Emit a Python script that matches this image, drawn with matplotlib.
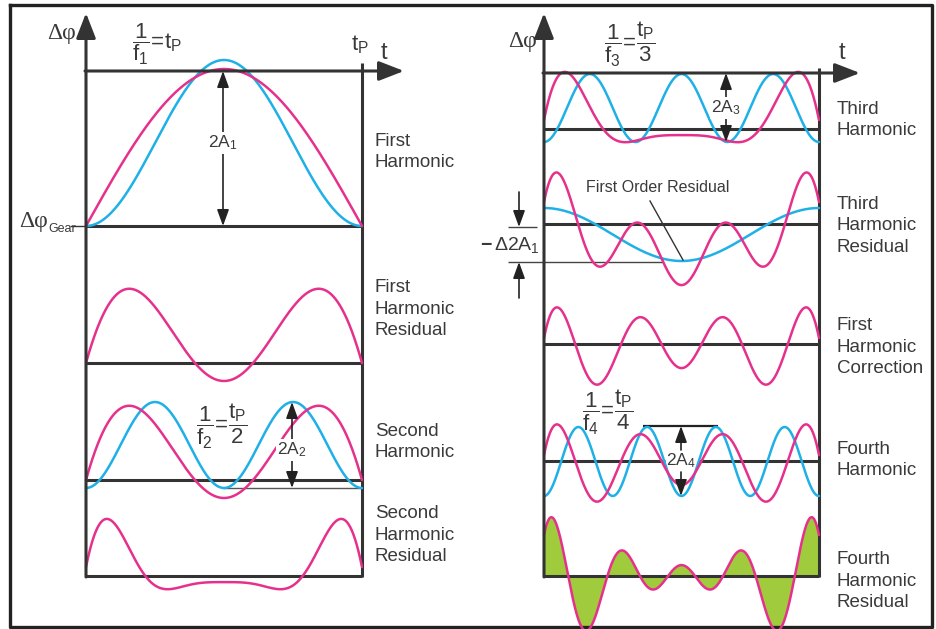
import matplotlib

matplotlib.use("Agg")
import matplotlib.pyplot as plt
import numpy as np

plt.rcParams["font.family"] = ["Liberation Sans", "DejaVu Sans"]
plt.rcParams["mathtext.fontset"] = "custom"
plt.rcParams["mathtext.rm"] = "Liberation Sans"
plt.rcParams["mathtext.it"] = "Liberation Sans"
plt.rcParams["mathtext.bf"] = "Liberation Sans:bold"

# curve parameters (amplitudes in px of the original)
SIGNAL_AMP = 157                  # pink half wave, first harmonic panel
H1_OFFSET, H1_PP = 0, 166         # blue first harmonic, 2A1
RES1_GAIN = 2.0                   # first harmonic residual drawn magnified
H2_OFFSET, H2_PP = -8, 86         # 2A2
RES2_HALF = 432.1                 # second harmonic residual: half wave + cosines
RES2_CONST = -264.8
RES2_COS = [213.1, 50.2, 10.5]    # k = 1, 2, 3
H3_OFFSET, H3_PP = -13, 68        # 2A3
FO_OFFSET, FO_PP = 16, 53         # first order residual (blue)
H4_OFFSET, H4_PP = -35, 69        # 2A4

LEFT_LABELS = ["First\nHarmonic", "First\nHarmonic\nResidual",
               "Second\nHarmonic", "Second\nHarmonic\nResidual"]
RIGHT_LABELS = ["Third\nHarmonic", "Third\nHarmonic\nResidual",
                "First\nHarmonic\nCorrection", "Fourth\nHarmonic",
                "Fourth\nHarmonic\nResidual"]

PINK = "#e6318c"
BLUE = "#1eb0e6"
GREEN = "#a0cb3c"
DARK = "#333333"
TXT = "#3a3a3a"
SERIF = ["Liberation Serif", "DejaVu Serif"]

t = np.linspace(0, 1, 800)


def harmonic(k, offset, pp):
    return offset + pp * (1 - np.cos(2 * np.pi * k * t)) / 2


signal = SIGNAL_AMP * np.sin(np.pi * t)
h1 = harmonic(1, H1_OFFSET, H1_PP)
res1 = RES1_GAIN * (signal - h1)
h2 = harmonic(2, H2_OFFSET, H2_PP)
res2 = RES2_HALF * np.sin(np.pi * t) + RES2_CONST
for k, c in enumerate(RES2_COS, 1):
    res2 = res2 + c * np.cos(2 * np.pi * k * t)
h3 = harmonic(3, H3_OFFSET, H3_PP)
res3 = res2 - h3
first_order = FO_OFFSET - FO_PP * (1 - np.cos(2 * np.pi * t)) / 2
corr = res3 - first_order
h4 = harmonic(4, H4_OFFSET, H4_PP)
res4 = corr - h4

fig = plt.figure(figsize=(9.37, 6.29), dpi=100)
ax = fig.add_axes([0, 0, 1, 1])
ax.set_xlim(0, 937)
ax.set_ylim(629, 0)
ax.axis("off")

# outer frame
ax.plot([10, 932, 932, 10, 10], [5, 5, 627, 627, 5], color="#222222", lw=2.4)

LX0, LX1 = 86, 362
RX0, RX1 = 544, 819
LBASE = [226, 363, 480, 576]
RBASE = [129, 224, 344, 461, 576]
AXW = 2.2
CW = 1.8
SMALL_HEAD = dict(arrowstyle="-|>,head_length=0.55,head_width=0.2",
                  color="#222222", lw=1.2, shrinkA=0, shrinkB=0, mutation_scale=18)


def curve(x0, x1, base, vals, color, z=3):
    ax.plot(x0 + t * (x1 - x0), base - vals, color=color, lw=CW, zorder=z,
            solid_capstyle="round")


def hline(y, xa, xb, lw=AXW, color=DARK):
    ax.plot([xa, xb], [y, y], color=color, lw=lw, zorder=2, solid_capstyle="butt")


def vline(x, ya, yb, lw=AXW):
    ax.plot([x, x], [ya, yb], color=DARK, lw=lw, zorder=2, solid_capstyle="butt")


def axis_arrow(xy, xytext):
    ax.annotate("", xy=xy, xytext=xytext, zorder=4,
                arrowprops=dict(arrowstyle="-|>,head_length=0.85,head_width=0.33",
                                color=DARK, lw=AXW, shrinkA=0, shrinkB=0,
                                mutation_scale=18))


def dim_arrow(x, ya, yb, label, ylab, size=12.5):
    ax.annotate("", xy=(x, ya), xytext=(x, yb), zorder=5,
                arrowprops=dict(SMALL_HEAD, arrowstyle="<|-|>,head_length=0.55,head_width=0.2"))
    ax.text(x, ylab, label, ha="center", va="center", fontsize=size, color=TXT,
            zorder=6, bbox=dict(boxstyle="square,pad=0.1", fc="white", ec="none"))


# ---------------- left panel ----------------
axis_arrow((LX0, 13), (LX0, 577))
axis_arrow((404, 71), (LX0 - 1, 71))
vline(LX1, 63, 577)
for b in LBASE:
    hline(b, LX0, LX1)
hline(226, 70, LX0, lw=1.0)

curve(LX0, LX1, LBASE[0], h1, BLUE)
curve(LX0, LX1, LBASE[0], signal, PINK)
curve(LX0, LX1, LBASE[1], res1, PINK)
curve(LX0, LX1, LBASE[2], h2, BLUE)
curve(LX0, LX1, LBASE[2], res1, PINK)
curve(LX0, LX1, LBASE[3], res2, PINK)

dim_arrow(223, 71, 226, r"$2A_1$", 143)
hline(488, 223, LX1, lw=1.0, color="#555555")
dim_arrow(292, 402, 488, r"$2A_2$", 450)

ax.text(62, 34, "Δφ", ha="center", va="center", fontsize=17, color=TXT,
        family=SERIF)
ax.text(48, 222, "Δφ", ha="right", va="center", fontsize=17, color=TXT,
        family=SERIF)
ax.text(48, 229, "Gear", ha="left", va="center", fontsize=9, color=TXT)
ax.text(384, 53, "t", ha="center", va="center", fontsize=17, color=TXT)
ax.text(360, 45, r"$t_P$", ha="center", va="center", fontsize=16, color=TXT)
ax.text(157, 44, r"$\dfrac{1}{f_1}\!=\!t_P$", ha="center", va="center",
        fontsize=16, color=TXT)
ax.text(222, 426, r"$\dfrac{1}{f_2}\!=\!\dfrac{t_P}{2}$", ha="center", va="center",
        fontsize=16, color=TXT)

for lab, yc in zip(LEFT_LABELS, [152, 309, 442, 535]):
    ax.text(375, yc, lab, ha="left", va="center", fontsize=13.5, color=TXT,
            linespacing=1.32)

# ---------------- right panel ----------------
axis_arrow((RX0, 13), (RX0, 577))
axis_arrow((860, 73), (RX0 - 1, 73))
vline(RX1, 68, 577)
for b in RBASE:
    if b == 461:
        hline(b, RX0, 665)
        hline(b, 698, RX1)
    else:
        hline(b, RX0, RX1)

ax.fill_between(RX0 + t * (RX1 - RX0), RBASE[4], RBASE[4] - res4, color=GREEN,
                lw=0, zorder=1)

curve(RX0, RX1, RBASE[0], h3, BLUE)
curve(RX0, RX1, RBASE[0], res2, PINK)
curve(RX0, RX1, RBASE[1], first_order, BLUE)
curve(RX0, RX1, RBASE[1], res3, PINK)
curve(RX0, RX1, RBASE[2], corr, PINK)
curve(RX0, RX1, RBASE[3], h4, BLUE)
curve(RX0, RX1, RBASE[3], corr, PINK)
curve(RX0, RX1, RBASE[4], res4, PINK)

dim_arrow(726, 73, 142, r"$2A_3$", 108)
hline(426, 643, 718, lw=1.6, color="#222222")
ax.annotate("", xy=(681, 426), xytext=(681, 450), zorder=5, arrowprops=SMALL_HEAD)
ax.annotate("", xy=(681, 496), xytext=(681, 472), zorder=5, arrowprops=SMALL_HEAD)
ax.text(681, 461, r"$2A_4$", ha="center", va="center", fontsize=12.5, color=TXT,
        zorder=6)

# -delta 2A1 marker
hline(227, 508, 537, lw=1.0, color="#444444")
hline(262, 508, 663, lw=1.0, color="#444444")
ax.annotate("", xy=(519, 227), xytext=(519, 192), arrowprops=SMALL_HEAD)
ax.annotate("", xy=(519, 262), xytext=(519, 298), arrowprops=SMALL_HEAD)
ax.text(510, 245, r"$\mathbf{-}\,\Delta 2A_1$", ha="center", va="center",
        fontsize=14, color=TXT, zorder=6,
        bbox=dict(boxstyle="square,pad=0.05", fc="white", ec="none"))

ax.text(658, 188, "First Order Residual", ha="center", va="center", fontsize=11.5,
        color=TXT)
ax.plot([650, 683], [201, 260], color="#333333", lw=1.0, zorder=4)

ax.text(523, 41, "Δφ", ha="center", va="center", fontsize=17, color=TXT,
        family=SERIF)
ax.text(842, 53, "t", ha="center", va="center", fontsize=17, color=TXT)
ax.text(630, 44, r"$\dfrac{1}{f_3}\!=\!\dfrac{t_P}{3}$", ha="center", va="center",
        fontsize=16, color=TXT)
ax.text(608, 412, r"$\dfrac{1}{f_4}\!=\!\dfrac{t_P}{4}$", ha="center", va="center",
        fontsize=16, color=TXT)

for lab, yc in zip(RIGHT_LABELS, [120, 226, 347, 460, 581]):
    ax.text(837, yc, lab, ha="left", va="center", fontsize=13.5, color=TXT,
            linespacing=1.32)

fig.savefig("out.png", dpi=100, facecolor="white")
